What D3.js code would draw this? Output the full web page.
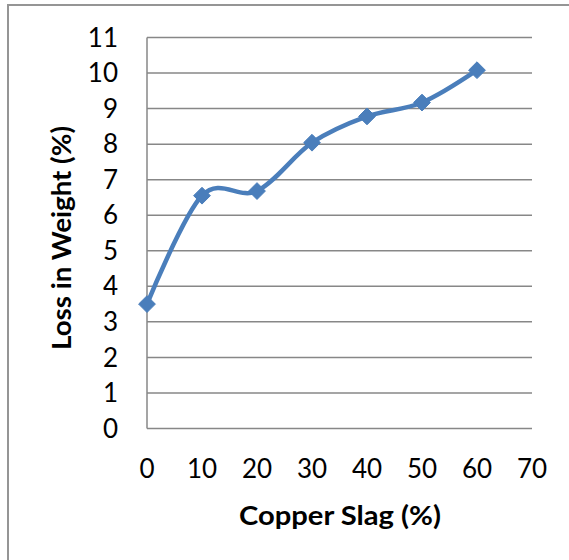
<!DOCTYPE html>
<html>
<head>
<meta charset="utf-8">
<script src="https://cdn.jsdelivr.net/npm/d3@7"></script>
<style>
  html, body { margin: 0; padding: 0; background: #fff; }
  svg { display: block; }
</style>
</head>
<body>
<svg id="chart" width="569" height="560"></svg>
<script>
// Copper slag replacement vs. loss in weight
const slagPercent = [0, 10, 20, 30, 40, 50, 60];
const weightLoss = [3.5, 6.55, 6.68, 8.04, 8.78, 9.17, 10.08];
const xTicks = [0, 10, 20, 30, 40, 50, 60, 70];
const yTicks = [0, 1, 2, 3, 4, 5, 6, 7, 8, 9, 10, 11];

const svg = d3.select("#chart");
const font = "Lato, 'Open Sans', sans-serif";

// outer chart frame
svg.append("rect")
  .attr("x", 8).attr("y", 5)
  .attr("width", 600).attr("height", 600)
  .attr("fill", "#fff")
  .attr("stroke", "#959595")
  .attr("stroke-width", 2);

const x = d3.scaleLinear().domain([0, 70]).range([147, 532]);
const y = d3.scaleLinear().domain([0, 11]).range([428.5, 37.5]);

// horizontal gridlines
svg.append("g")
  .selectAll("line")
  .data(yTicks)
  .join("line")
  .attr("x1", x(0)).attr("x2", x(70))
  .attr("y1", d => y(d)).attr("y2", d => y(d))
  .attr("stroke", "#878787")
  .attr("stroke-width", 1.5);

// vertical axis line
svg.append("line")
  .attr("x1", x(0)).attr("x2", x(0))
  .attr("y1", y(0)).attr("y2", y(11))
  .attr("stroke", "#878787")
  .attr("stroke-width", 1.5);

// y tick labels
svg.append("g")
  .selectAll("text")
  .data(yTicks)
  .join("text")
  .attr("x", 118)
  .attr("y", d => y(d))
  .attr("dy", "0.35em")
  .attr("text-anchor", "end")
  .attr("font-family", font)
  .attr("font-size", 26)
  .attr("fill", "#000")
  .text(d => d);

// x tick labels
svg.append("g")
  .selectAll("text")
  .data(xTicks)
  .join("text")
  .attr("x", d => x(d))
  .attr("y", 469)
  .attr("dy", "0.35em")
  .attr("text-anchor", "middle")
  .attr("font-family", font)
  .attr("font-size", 26)
  .attr("fill", "#000")
  .text(d => d);

// axis titles
svg.append("text")
  .attr("x", 340).attr("y", 516)
  .attr("dy", "0.35em")
  .attr("text-anchor", "middle")
  .attr("font-family", font)
  .attr("font-weight", "bold")
  .attr("font-size", 27)
  .attr("textLength", 202)
  .attr("lengthAdjust", "spacingAndGlyphs")
  .text("Copper Slag (%)");

svg.append("text")
  .attr("transform", "translate(62,238) rotate(-90)")
  .attr("dy", "0.35em")
  .attr("text-anchor", "middle")
  .attr("font-family", font)
  .attr("font-weight", "bold")
  .attr("font-size", 26)
  .attr("textLength", 224)
  .attr("lengthAdjust", "spacingAndGlyphs")
  .text("Loss in Weight (%)");

const pts = slagPercent.map((s, i) => [s, weightLoss[i]]);

// smoothed series line
const line = d3.line()
  .x(d => x(d[0]))
  .y(d => y(d[1]))
  .curve(d3.curveCardinal.tension(0));

svg.append("path")
  .datum(pts)
  .attr("d", line)
  .attr("fill", "none")
  .attr("stroke", "#4a7ebb")
  .attr("stroke-width", 4.5)
  .attr("stroke-linejoin", "round");

// diamond markers
const diamond = d3.symbol().type(d3.symbolDiamond2).size(180);
svg.append("g")
  .selectAll("path")
  .data(pts)
  .join("path")
  .attr("transform", d => `translate(${x(d[0])},${y(d[1])})`)
  .attr("d", diamond)
  .attr("fill", "#4a7ebb")
  .attr("stroke", "#4a7ebb")
  .attr("stroke-width", 1);
</script>
</body>
</html>
